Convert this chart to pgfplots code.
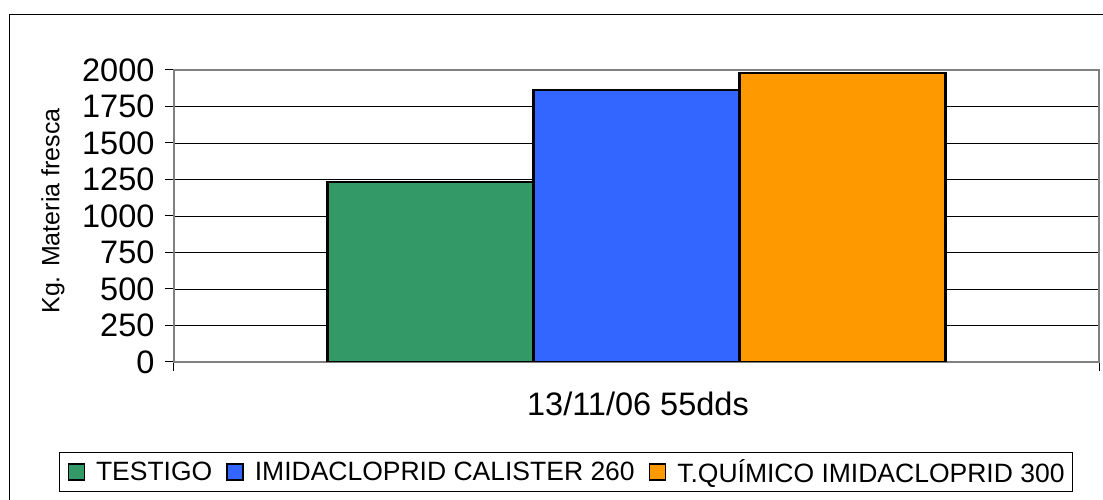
\documentclass[border=0pt]{standalone}
\usepackage{pgfplots}
\pgfplotsset{compat=1.18}
\usepackage{fontspec}
\setmainfont{Liberation Sans}
\definecolor{cgreen}{HTML}{339966}
\definecolor{cblue}{HTML}{3366FF}
\definecolor{corange}{HTML}{FF9900}
\definecolor{cframe}{HTML}{808080}
\begin{document}
\begin{tikzpicture}[x=1pt,y=1pt]
\useasboundingbox (0,0) rectangle (1103,500);
\draw[line width=1pt, black] (9,-10) -- (9,485) -- (1120,485);
\begin{axis}[
  at={(174pt,138pt)}, anchor=south west,
  scale only axis, width=925pt, height=292pt,
  ybar=0pt, bar width=206pt,
  xmin=-1, xmax=1, ymin=0, ymax=2000,
  ytick={0,250,...,2000},
  xtick={-1,1}, xticklabels={},
  ytick pos=left, xtick pos=bottom,
  tick align=outside, major tick length=9pt,
  tick style={black, line width=1pt},
  axis line style={cframe, line width=2pt},
  ymajorgrids, grid style={black, line width=0.8pt},
  /pgf/number format/assume math mode=true,
  /pgf/number format/1000 sep={},
  ticklabel style={font=\fontsize{32.5}{38}\selectfont},
  yticklabel style={xshift=-7pt},
  xlabel={13/11/06 55dds},
  xlabel style={at={(axis description cs:0.5016,-0.1438)}, anchor=center, font=\fontsize{32.5}{38}\selectfont},
  ylabel={Kg. Materia fresca},
  ylabel style={at={(axis description cs:-0.1308,0.517)}, anchor=center, font=\fontsize{25}{30}\selectfont},
  legend columns=3,
  legend image code/.code={\draw[#1, draw=black, line width=1.5pt] (0pt,-8pt) rectangle (16pt,8pt);},
  legend style={at={(axis description cs:0.4238,-0.3767)}, anchor=center,
    draw=black, line width=1pt, font=\fontsize{26.5}{30}\selectfont,
    inner xsep=8pt, inner ysep=4.5pt,
    /tikz/every odd column/.append style={column sep=11pt},
    /tikz/every even column/.append style={column sep=14pt},
    nodes={inner xsep=0pt, inner ysep=3pt}},
]
\addplot[fill=cgreen, draw=black, line width=2.2pt] coordinates {(0,1235)};
\addplot[fill=cblue, draw=black, line width=2.2pt] coordinates {(0,1863)};
\addplot[fill=corange, draw=black, line width=2.2pt] coordinates {(0,1981)};
\legend{TESTIGO, IMIDACLOPRID CALISTER 260, T.QUÍMICO IMIDACLOPRID 300}
\end{axis}
\end{tikzpicture}
\end{document}
